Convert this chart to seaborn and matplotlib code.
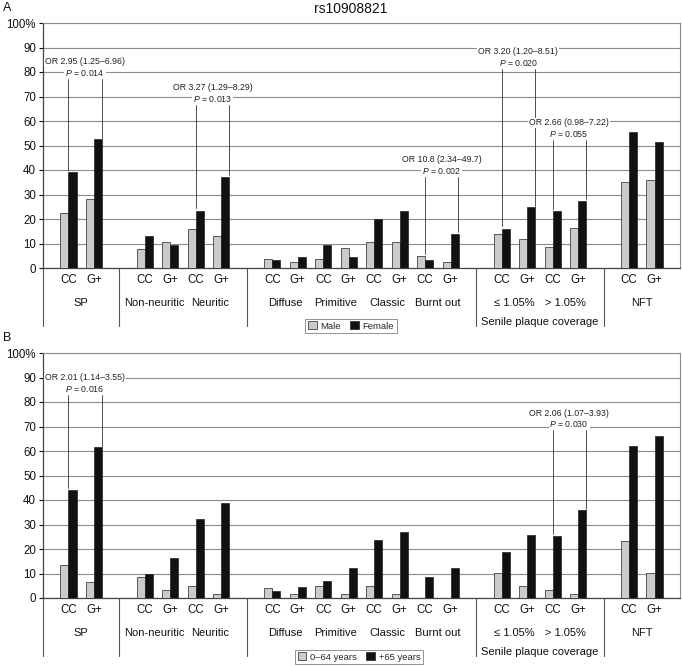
import numpy as np
import pandas as pd
import matplotlib
matplotlib.use("Agg")
import matplotlib.pyplot as plt
import seaborn as sns
from matplotlib.transforms import blended_transform_factory

sns.set_theme(style="white")
plt.rcParams['font.family'] = ['Liberation Sans', 'DejaVu Sans']
plt.rcParams['mathtext.fontset'] = 'custom'
plt.rcParams['mathtext.it'] = 'Liberation Sans:italic'
plt.rcParams['mathtext.rm'] = 'Liberation Sans'

# ---------------- data ----------------
title = "rs10908821"
groups = ["SP", "Non-neuritic", "Neuritic", "Diffuse", "Primitive", "Classic",
          "Burnt out", "≤ 1.05%", "> 1.05%", "NFT"]
genotypes = ["CC", "G+"]
section_starts = [1, 3, 7, 9]          # a blank slot precedes these groups
coverage_groups = ["≤ 1.05%", "> 1.05%"]
coverage_label = "Senile plaque coverage"

sex_names = ["Male", "Female"]
male = [22.5, 28.0, 7.8, 10.8, 16.0, 13.2, 3.5, 2.4, 3.5, 8.3,
        10.8, 10.7, 4.9, 2.4, 13.7, 11.8, 8.7, 16.5, 35.0, 36.0]
female = [39.2, 52.5, 12.9, 9.5, 23.4, 37.2, 3.3, 4.6, 9.3, 4.6,
          20.0, 23.4, 3.4, 13.9, 16.0, 24.8, 23.2, 27.5, 55.5, 51.5]

age_names = ["0–64 years", "+65 years"]
young = [13.5, 6.6, 8.6, 3.4, 5.1, 1.8, 4.0, 1.8, 4.8, 1.8,
         5.1, 1.8, 0.0, 0.0, 10.2, 5.0, 3.4, 1.8, 23.3, 10.2]
old = [44.0, 61.5, 9.9, 16.4, 32.2, 38.8, 2.8, 4.6, 7.1, 12.1,
       23.8, 26.9, 8.6, 12.1, 18.9, 25.8, 25.3, 35.8, 62.2, 66.0]

# (group, OR text, P value, P text height)
annot_a = [("SP", "OR 2.95 (1.25–6.96)", "0.014", 79.6),
           ("Neuritic", "OR 3.27 (1.29–8.29)", "0.013", 69.0),
           ("Burnt out", "OR 10.8 (2.34–49.7)", "0.002", 39.6),
           ("≤ 1.05%", "OR 3.20 (1.20–8.51)", "0.020", 83.7),
           ("> 1.05%", "OR 2.66 (0.98–7.22)", "0.055", 54.7)]
annot_b = [("SP", "OR 2.01 (1.14–3.55)", "0.016", 85.3),
           ("> 1.05%", "OR 2.06 (1.07–3.93)", "0.030", 71.0)]

GRAY = "#cbcbcb"
BLACK = "#111111"
GRID = "#8c8c8c"

# ---------------- layout of category slots ----------------
order, slot_labels, group_pos, seps = [], [], {}, [-1]
for gi, g in enumerate(groups):
    if gi in section_starts:
        seps.append(len(order))
        order.append(f"gap{gi}")
        slot_labels.append("")
    for gt in genotypes:
        order.append(f"{g}|{gt}")
        slot_labels.append(gt)
    group_pos[g] = len(order) - 1.5

label_nudge = {"Non-neuritic": -0.12, "Neuritic": 0.05}


def draw_panel(ax, v1, v2, names, annots, legend_xy, fig):
    slots = [f"{g}|{gt}" for g in groups for gt in genotypes]
    df = pd.DataFrame({"slot": slots * 2,
                       "value": list(v1) + list(v2),
                       "series": [names[0]] * len(v1) + [names[1]] * len(v2)})
    sns.barplot(data=df, x="slot", y="value", hue="series", order=order,
                hue_order=names, palette=[GRAY, BLACK], width=0.63,
                edgecolor="#222222", linewidth=0.5, errorbar=None, ax=ax,
                zorder=3)
    ax.set_axisbelow(True)
    ax.set_xlabel("")
    ax.set_ylabel("")
    ax.set_xlim(-1, len(order))
    ax.set_ylim(0, 100)
    yt = list(range(0, 101, 10))
    ax.set_yticks(yt)
    ax.set_yticklabels([str(v) for v in yt[:-1]] + ["100%"])
    ticks = [i for i, l in enumerate(slot_labels) if l]
    ax.set_xticks(ticks)
    ax.set_xticklabels([slot_labels[i] for i in ticks])
    ax.tick_params(axis="x", length=0, pad=4, labelsize=8.3, colors="#111")
    ax.tick_params(axis="y", length=3, width=0.8, pad=2, labelsize=8.3,
                   left=True, colors="#111")
    ax.yaxis.grid(True, color=GRID, linewidth=0.8)
    ax.xaxis.grid(False)
    for s in ["left", "bottom"]:
        ax.spines[s].set_color("#444444")
        ax.spines[s].set_linewidth(0.9)
    for s in ["top", "right"]:
        ax.spines[s].set_color(GRID)
        ax.spines[s].set_linewidth(0.8)

    trans = blended_transform_factory(ax.transData, ax.transAxes)
    for g in groups:
        ax.text(group_pos[g] + label_nudge.get(g, 0), -0.143, g, ha="center",
                va="center", fontsize=8.0, transform=trans, color="#111")
    cov_x = np.mean([group_pos[g] for g in coverage_groups])
    ax.text(cov_x, -0.22, coverage_label, ha="center", va="center",
            fontsize=8.0, transform=trans, color="#111")
    for s in seps:
        ax.plot([s, s], [0, -0.235], transform=trans, clip_on=False,
                color="#555555", lw=0.8)

    vals = {}
    for k, s in enumerate(slots):
        vals[s] = max(v1[k], v2[k])
    for g, ortxt, pval, py in annots:
        xc = order.index(f"{g}|CC")
        xg = order.index(f"{g}|G+") + 0.3
        ytop = py - 2.6
        ax.plot([xc, xc], [ytop, vals[f"{g}|CC"] + 1.0], color="#333",
                lw=0.6, zorder=4)
        ax.plot([xg, xg], [ytop, vals[f"{g}|G+"] + 0.6], color="#333",
                lw=0.6, zorder=4)
        xm = (xc + xg) / 2
        bb = dict(facecolor="white", edgecolor="none", pad=0.6)
        ax.text(xm, py + 4.5, ortxt, ha="center", va="center", fontsize=6.3,
                bbox=bb, zorder=5, color="#222")
        ax.text(xm, py, r"$\it{P}$ = " + pval, ha="center", va="center",
                fontsize=6.3, bbox=bb, zorder=5, color="#222")

    handles, labels = ax.get_legend_handles_labels()
    if ax.legend_ is not None:
        ax.legend_.remove()
    leg = ax.legend(handles, labels, loc="center", bbox_to_anchor=legend_xy,
                    bbox_transform=fig.transFigure, ncol=2, frameon=True,
                    fancybox=False, edgecolor="#777777", fontsize=6.8,
                    handlelength=0.9, handleheight=0.9, handletextpad=0.4,
                    columnspacing=1.0, borderpad=0.3, borderaxespad=0)
    leg.get_frame().set_linewidth(0.7)


W, H = 682, 667
fig = plt.figure(figsize=(W / 100, H / 100), dpi=100)
axA = fig.add_axes([43 / W, 1 - 268 / H, 637 / W, 245 / H])
axB = fig.add_axes([43 / W, 1 - 598 / H, 637 / W, 245 / H])

draw_panel(axA, male, female, sex_names, annot_a, (351 / W, 1 - 326 / H), fig)
draw_panel(axB, young, old, age_names, annot_b, (359 / W, 1 - 657 / H), fig)

fig.text(351 / W, 1 - 9 / H, title, ha="center", va="center", fontsize=10,
         color="#111")
fig.text(3 / W, 1 - 8 / H, "A", ha="left", va="center", fontsize=9, color="#111")
fig.text(3 / W, 1 - 338 / H, "B", ha="left", va="center", fontsize=9, color="#111")

fig.savefig("out.png", dpi=100)
